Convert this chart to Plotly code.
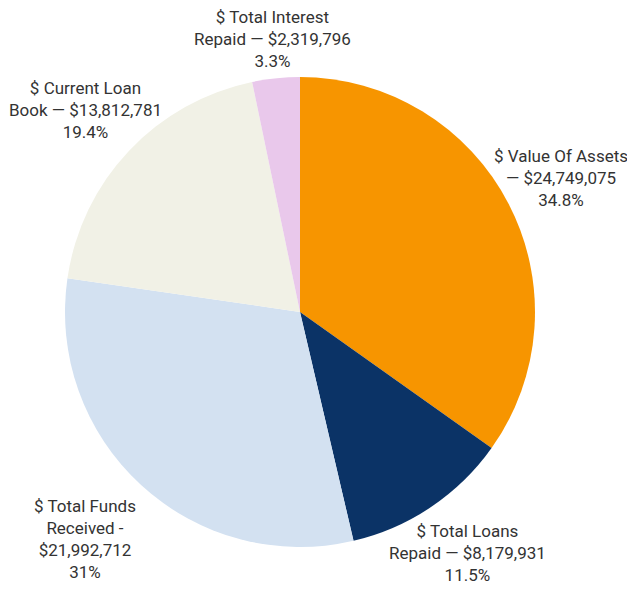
import plotly.graph_objects as go

names = ["$ Value Of Assets", "$ Total Loans Repaid", "$ Total Funds Received",
         "$ Current Loan Book", "$ Total Interest Repaid"]
values = [24749075, 8179931, 21992712, 13812781, 2319796]
pct_labels = ["34.8%", "11.5%", "31%", "19.4%", "3.3%"]
label_text = [
    "$ Value Of Assets<br>— $24,749,075",
    "$ Total Loans<br>Repaid — $8,179,931",
    "$ Total Funds<br>Received -<br>$21,992,712",
    "$ Current Loan<br>Book — $13,812,781",
    "$ Total Interest<br>Repaid — $2,319,796",
]
colors = ["#F79500", "#0B3366", "#D3E1F1", "#F1F1E6", "#E9C8EB"]

# the page body adds an 8px margin, so the figure is drawn 8px in from the corner
OFF = 8
W, H = 635 - 2 * OFF, 594 - 2 * OFF
cx, cy, r = 300 - OFF, 312 - OFF, 235

fig = go.Figure(go.Pie(
    labels=names,
    values=values,
    textinfo="none",
    sort=False,
    direction="clockwise",
    rotation=0,
    marker=dict(colors=colors, line=dict(width=0)),
    showlegend=False,
    hoverinfo="label+value+percent",
    domain=dict(x=[(cx - r) / W, (cx + r) / W], y=[(H - cy - r) / H, (H - cy + r) / H]),
))

# label block centres (screen pixels from top-left)
label_pos = [(561, 178), (467, 553), (85, 539), (85, 110), (272, 39)]
for txt, p, (lx, ly) in zip(label_text, pct_labels, label_pos):
    fig.add_annotation(
        x=(lx - OFF) / W, y=(H - (ly - OFF)) / H, xref="paper", yref="paper",
        xanchor="center", yanchor="middle", align="center",
        text=f"{txt}<br>{p}", showarrow=False,
        font=dict(family="Roboto", size=17, color="#333333"),
    )

fig.update_layout(
    width=W, height=H,
    margin=dict(l=0, r=0, t=0, b=0),
    paper_bgcolor="white",
    plot_bgcolor="white",
)

fig.write_html("out.html")
